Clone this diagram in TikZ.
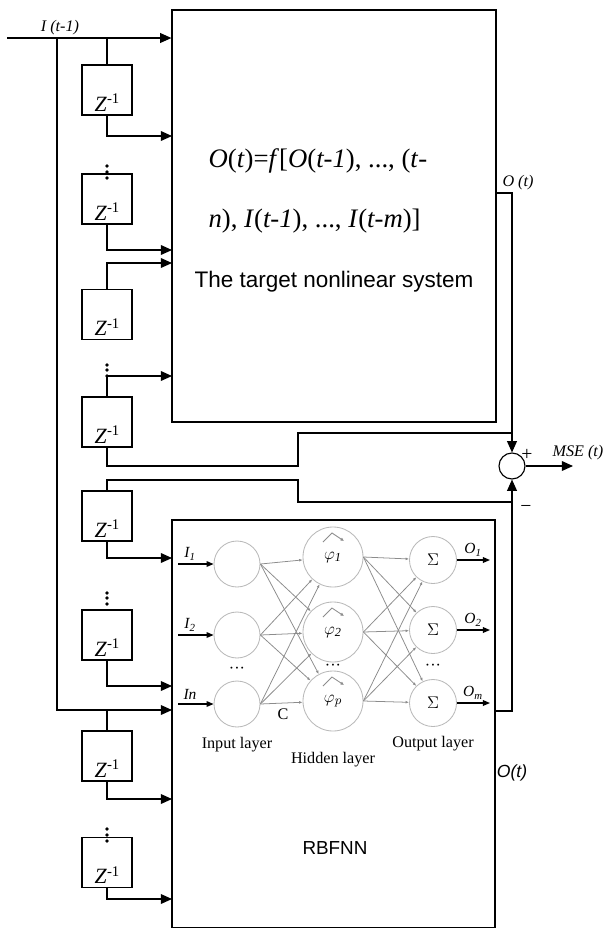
\documentclass[tikz,border=0pt]{standalone}
\usepackage{fontspec}
\setmainfont{Liberation Serif}
\setsansfont{Liberation Sans}
\usetikzlibrary{arrows.meta,positioning}

\begin{document}
\begin{tikzpicture}[x=0.025cm, y=-0.025cm, line width=0.8pt,
        every node/.style={inner sep=0pt},
        arr/.style={-{Triangle[length=8pt, width=7pt]}},
        sarr/.style={-{Triangle[length=5pt, width=4pt]}, line width=0.9pt},
        conn/.style={gray!90, line width=0.55pt, -{Latex[length=2.5pt, width=2pt]}},
        neuron/.style={draw=gray!55, circle, line width=0.6pt},
        delay/.style={draw, minimum width=1.25cm, inner ysep=0.05cm,
            text height=1.1cm, text depth=0.05cm, font=\fontsize{15.5}{15}\selectfont},
        lbl/.style={font=\fontsize{11.5}{12}\selectfont\itshape},
        netlbl/.style={font=\fontsize{11.5}{12}\selectfont},
        netit/.style={font=\fontsize{11}{12}\selectfont\itshape}]
    \useasboundingbox (0,0) rectangle (606,929);

    % The target system and the RBFNN
    \node[draw, minimum width=8.1cm, minimum height=10.3cm] (sys) at (334,216) {};
    \node[draw, minimum width=8.075cm, minimum height=10.175cm] (rbf) at (333.5,723.5) {};
    \node[anchor=base west, font=\fontsize{19}{20}\selectfont] (eq1) at (208,167)
        {\textit{O}(\textit{t})=\textit{f}[\textit{O}(\textit{t-1}), ..., (\textit{t}-};
    \node[anchor=base west, font=\fontsize{19}{20}\selectfont] (eq2) at (208,227)
        {\textit{n}), \textit{I}(\textit{t-1}), ..., \textit{I}(\textit{t-m})]};
    \node[anchor=base, font=\sffamily\fontsize{16}{17}\selectfont] (title) at (334,287) {The target nonlinear system};
    \node[font=\sffamily\fontsize{13.4}{14}\selectfont] (lrbf) at (335,848) {RBFNN};

    % Delay units
    \foreach \n/\y in {d1/90, d2/199, d3/314.5, d4/422, d5/516, d6/635, d7/756, d8/862.5}
        \node[delay] (\n) at (107,\y) {\textit{Z}\raisebox{0.75ex}{\fontsize{10.5}{10}\selectfont -1}};
    \foreach \y in {166,172,178, 365,370,376, 593,598,604, 829,835,841}
        \fill (107,\y) circle (1.3pt);

    % Arrow ends on the two boxes
    \coordinate (in) at (7,38);
    \coordinate (b0) at (57,38);
    \coordinate (a1) at (172,136);
    \coordinate (a2) at (172,250);
    \coordinate (a3) at (172,263);
    \coordinate (a4) at (172,376);
    \coordinate (a5) at (172,558);
    \coordinate (a6) at (172,686);
    \coordinate (a7) at (172,710);
    \coordinate (a8) at (172,799);
    \coordinate (a9) at (172,899);

    % Input line and delays
    \draw[arr] (in) -- (in -| sys.west);
    \node[lbl] (lin) at (60,28) {I (t-1)};
    \draw[arr] (b0) |- (a7);
    \draw (d1.north) -- (d1.north |- in);
    \draw[arr] (d1.south) |- (a1);
    \draw[arr] (d2.south) |- (a2);
    \draw[arr] (d3.north) |- (a3);
    \draw[arr] (d4.north) |- (a4);
    \draw[arr] (d5.south) |- (a5);
    \draw[arr] (d6.south) |- (a6);
    \draw (d7.north) -- (d7.north |- a7);
    \draw[arr] (d7.south) |- (a8);
    \draw[arr] (d8.south) |- (a9);

    % Error junction
    \node[draw, circle, minimum size=0.65cm] (sum) at (512,466) {};
    \coordinate (so) at (496,193);
    \coordinate (ro) at (495,711);
    \coordinate (j1) at (298,466);
    \coordinate (j2) at (512,433);
    \coordinate (j3) at (298,480);
    \coordinate (j4) at (512,502);
    \coordinate (mse) at (573,466);
    \draw[arr] (so) -| (sum.north);
    \draw[arr] (ro) -| (sum.south);
    \draw (d4.south) |- (j1) |- (j2);
    \draw (d5.north) |- (j3) |- (j4);
    \draw[arr] (sum.east) -- (mse);
    \node[lbl] (lot) at (518,183) {O (t)};
    \node[lbl] (lmse) at (578,453) {MSE (t)};
    \node[font=\fontsize{14}{14}\selectfont] (lplus) at (527,455) {+};
    \node[font=\fontsize{14}{14}\selectfont] (lminus) at (526,509) {−};
    \node[font=\sffamily\itshape\fontsize{12.5}{13}\selectfont] (lout) at (512,773) {O(t)};

    % RBF network
    \foreach \k/\y in {1/564, 2/635, 3/704}
        \node[neuron, minimum size=1.15cm] (i\k) at (237,\y) {};
    \node[neuron, minimum size=1.5cm, font=\fontsize{12.5}{12}\selectfont] (h1) at (333,557) {$\varphi_{\mathit{1}}$};
    \node[neuron, minimum size=1.5cm, font=\fontsize{12.5}{12}\selectfont] (h2) at (333,632) {$\varphi_{\mathit{2}}$};
    \node[neuron, minimum size=1.5cm, font=\fontsize{12.5}{12}\selectfont] (h3) at (333,701) {$\varphi_{p}$};
    \foreach \k/\y in {1/560, 2/630, 3/703}
        \node[neuron, minimum size=1.175cm, font=\fontsize{13}{12}\selectfont] (o\k) at (433,\y) {$\Sigma$};
    \foreach \a in {1,2,3}
        \foreach \b in {1,2,3} {
            \draw[conn] (i\a.east) -- (h\b);
            \draw[conn] (h\a.east) -- (o\b);
        }
    \foreach \k in {1,2,3}
        \draw[gray!90, line width=0.6pt, -{Latex[length=2.5pt, width=2.5pt]}]
            ([shift={(-10,-15)}]h\k.center) -- ++(9,-9) -- ++(12,8);
    \foreach \k/\y/\t in {1/564/I\textsubscript{1}, 2/635/I\textsubscript{2}, 3/704/In} {
        \coordinate (ia\k) at (178,\y);
        \draw[sarr] (ia\k) -- (i\k.west);
        \node[netit] (li\k) at (190,\y-10) {\t};
    }
    \foreach \k/\y/\t in {1/560/O\textsubscript{1}, 2/630/O\textsubscript{2}, 3/703/O\textsubscript{m}} {
        \coordinate (oa\k) at (490,\y);
        \draw[sarr] (o\k.east) -- (oa\k);
        \node[netit] (lo\k) at (473,\y-10) {\t};
    }
    \node[netlbl] (dots1) at (237,670) {···};
    \node[netlbl] (dots2) at (333,667) {···};
    \node[netlbl] (dots3) at (433,667) {···};
    \node[netlbl] (lc) at (283,714) {C};
    \node[netlbl] (lin1) at (237,745) {Input layer};
    \node[netlbl] (lhid) at (333,760) {Hidden layer};
    \node[netlbl] (lout1) at (433,744) {Output layer};
\end{tikzpicture}
\end{document}
